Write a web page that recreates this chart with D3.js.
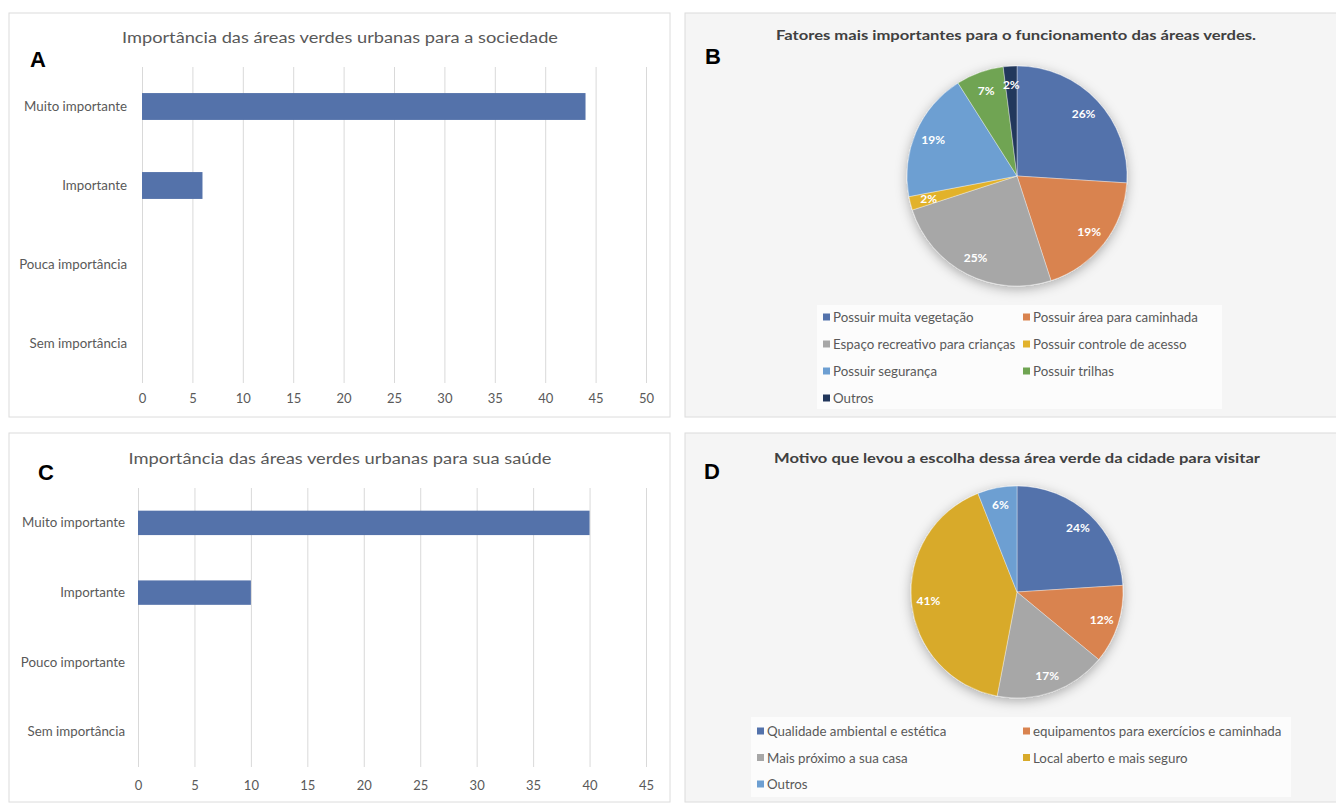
<!DOCTYPE html>
<html><head><meta charset="utf-8">
<script src="https://cdn.jsdelivr.net/npm/d3@7"></script>
<style>
html,body{margin:0;padding:0;background:#fff;}
svg{display:block;font-family:Lato, "Open Sans", sans-serif;}
</style></head>
<body>
<svg id="c" width="1336" height="803"></svg>
<script>
// ---- data ----
const catsA = ["Muito importante", "Importante", "Pouca importância", "Sem importância"];
const valsA = [44, 6, 0, 0];
const ticksA = [0, 5, 10, 15, 20, 25, 30, 35, 40, 45, 50];
const titleA = "Importância das áreas verdes urbanas para a sociedade";

const catsC = ["Muito importante", "Importante", "Pouco importante", "Sem importância"];
const valsC = [40, 10, 0, 0];
const ticksC = [0, 5, 10, 15, 20, 25, 30, 35, 40, 45];
const titleC = "Importância das áreas verdes urbanas para sua saúde";

const labelsB = ["Possuir muita vegetação", "Possuir área para caminhada", "Espaço recreativo para crianças", "Possuir controle de acesso", "Possuir segurança", "Possuir trilhas", "Outros"];
const valsB = [26, 19, 25, 2, 19, 7, 2];
const colorsB = ["#5372ab", "#d9834f", "#a7a7a7", "#e2b22c", "#6d9fd2", "#6fa452", "#22375c"];
const titleB = "Fatores mais importantes para o funcionamento das áreas verdes.";

const labelsD = ["Qualidade ambiental e estética", "equipamentos para exercícios e caminhada", "Mais próximo a sua casa", "Local aberto e mais seguro", "Outros"];
const valsD = [24, 12, 17, 41, 6];
const colorsD = ["#5372ab", "#d9834f", "#a7a7a7", "#d8aa2a", "#6d9fd2"];
const titleD = "Motivo que levou a escolha dessa área verde da cidade para visitar";

const barColor = "#5472aa";
const textGray = "#595959";
const gridGray = "#d9d9d9";

const svg = d3.select("#c");
const defs = svg.append("defs");
const f = defs.append("filter").attr("id", "shadow").attr("x", "-30%").attr("y", "-30%").attr("width", "160%").attr("height", "160%");
f.append("feDropShadow").attr("dx", 0).attr("dy", 3).attr("stdDeviation", 6).attr("flood-color", "#000").attr("flood-opacity", 0.3);

svg.append("rect").attr("width", 1336).attr("height", 803).attr("fill", "#fff");

// panels
const panels = [
  {x: 9, y: 13, w: 661, h: 404, fill: "#fff"},
  {x: 685, y: 13, w: 660, h: 404, fill: "#f5f5f5"},
  {x: 9, y: 433, w: 661, h: 369, fill: "#fff"},
  {x: 685, y: 433, w: 660, h: 369, fill: "#f5f5f5"}
];
svg.selectAll("rect.panel").data(panels).join("rect").attr("class", "panel")
  .attr("x", d => d.x).attr("y", d => d.y).attr("width", d => d.w).attr("height", d => d.h)
  .attr("fill", d => d.fill).attr("stroke", "#dcdcdc").attr("stroke-width", 1);

function letter(t, x, y) {
  svg.append("text").attr("x", x).attr("y", y).text(t)
    .attr("font-family", "Liberation Sans, Arial, sans-serif").attr("font-weight", "bold")
    .attr("font-size", 22).attr("fill", "#000");
}
letter("A", 30, 67); letter("B", 705, 64); letter("C", 38, 480); letter("D", 704, 479);

function title(t, cx, cy, size, weight, width, color) {
  svg.append("text").attr("x", cx).attr("y", cy).attr("text-anchor", "middle")
    .attr("dominant-baseline", "central").attr("font-size", size).attr("font-weight", weight)
    .attr("fill", color).attr("textLength", width).attr("lengthAdjust", "spacingAndGlyphs").text(t);
}

function barChart(cats, vals, ticks, xr, yr, padIn, labelPad, tickPad) {
  const x = d3.scaleLinear().domain([ticks[0], ticks[ticks.length - 1]]).range(xr);
  const y = d3.scaleBand().domain(cats).range(yr).paddingInner(padIn).paddingOuter(padIn / 2);
  const gx = svg.append("g").attr("transform", `translate(0,${yr[1]})`)
    .call(d3.axisBottom(x).tickValues(ticks).tickSize(-(yr[1] - yr[0])).tickPadding(tickPad).tickFormat(d3.format("d")));
  gx.select(".domain").remove();
  gx.selectAll("line").attr("stroke", gridGray);
  gx.selectAll("text").attr("fill", textGray).attr("font-size", 13).attr("font-family", "Lato, sans-serif");
  const gy = svg.append("g").attr("transform", `translate(${xr[0]},0)`)
    .call(d3.axisLeft(y).tickSize(0).tickPadding(labelPad));
  gy.select(".domain").remove();
  gy.selectAll("text").attr("fill", textGray).attr("font-size", 13.3).attr("font-family", "Lato, sans-serif");
  svg.append("g").selectAll("rect").data(cats.map((c, i) => ({c, v: vals[i]}))).join("rect")
    .attr("x", x(0)).attr("y", d => y(d.c)).attr("width", d => x(d.v) - x(0))
    .attr("height", y.bandwidth()).attr("fill", barColor);
}

title(titleA, 340, 36, 16, "normal", 436, textGray);
barChart(catsA, valsA, ticksA, [142, 646], [67, 383], 0.66, 15, 11);

title(titleC, 340, 457, 16, "normal", 423, textGray);
barChart(catsC, valsC, ticksC, [138, 646], [488, 767], 0.65, 13, 14);

function pieChart(labels, vals, colors, cx, cy, r, labFrac, legend) {
  const pie = d3.pie().sort(null).value(d => d.v);
  const data = pie(labels.map((l, i) => ({l, v: vals[i], c: colors[i]})));
  const arc = d3.arc().innerRadius(0).outerRadius(r);
  const lab = d3.arc().innerRadius(r * labFrac).outerRadius(r * labFrac);
  const g = svg.append("g").attr("transform", `translate(${cx},${cy})`);
  g.append("g").attr("filter", "url(#shadow)").selectAll("path").data(data).join("path")
    .attr("d", arc).attr("fill", d => d.data.c).attr("stroke", "#ffffff").attr("stroke-width", 0.6).attr("stroke-opacity", 0.6);
  g.append("g").selectAll("text").data(data).join("text")
    .attr("transform", d => `translate(${lab.centroid(d)})`)
    .attr("text-anchor", "middle").attr("dominant-baseline", "central")
    .attr("font-size", 12).attr("font-weight", "bold").attr("fill", "#fff")
    .text(d => d.data.v + "%");
  // legend
  svg.append("rect").attr("x", legend.bx).attr("y", legend.by).attr("width", legend.bw).attr("height", legend.bh).attr("fill", "#fcfcfc");
  const items = svg.append("g").selectAll("g").data(data).join("g")
    .attr("transform", (d, i) => `translate(${legend.cols[i % 2]},${legend.row0 + Math.floor(i / 2) * legend.step})`);
  items.append("rect").attr("x", 0).attr("y", -3.5).attr("width", 7).attr("height", 7).attr("fill", d => d.data.c);
  items.append("text").attr("x", 10).attr("y", 0).attr("dominant-baseline", "central")
    .attr("font-size", 13.3).attr("fill", textGray).text(d => d.data.l);
}

title(titleB, 1016, 34, 14, "bold", 480, "#404040");
pieChart(labelsB, valsB, colorsB, 1017, 176, 110, 0.83,
  {bx: 817, by: 305, bw: 405, bh: 104, cols: [823, 1023], row0: 317, step: 27});

title(titleD, 1017, 457, 14, "bold", 486, "#404040");
pieChart(labelsD, valsD, colorsD, 1017, 592, 106, 0.84,
  {bx: 751, by: 717, bw: 540, bh: 80, cols: [757, 1023], row0: 731, step: 26.5});
</script>
</body></html>
